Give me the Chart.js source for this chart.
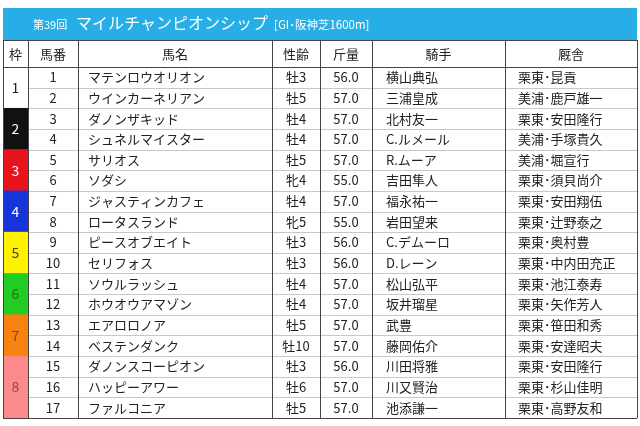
<!DOCTYPE html>
<html><head><meta charset="utf-8">
<script src="https://cdn.jsdelivr.net/npm/chart.js@4"></script>
<style>body{margin:0;background:#fff}</style>
</head><body>
<canvas id="c" width="640" height="426"></canvas>
<script>
const waku = [1,1,2,2,3,3,4,4,5,5,6,6,7,7,8,8,8];
const umaban = ["1","2","3","4","5","6","7","8","9","10","11","12","13","14","15","16","17"];
const names = ["マテンロウオリオン","ウインカーネリアン","ダノンザキッド","シュネルマイスター","サリオス","ソダシ","ジャスティンカフェ","ロータスランド","ピースオブエイト","セリフォス","ソウルラッシュ","ホウオウアマゾン","エアロロノア","ベステンダンク","ダノンスコーピオン","ハッピーアワー","ファルコニア"];
const sexAge = ["牡3","牡5","牡4","牡4","牡5","牝4","牡4","牝5","牡3","牡3","牡4","牡4","牡5","牡10","牡3","牡6","牡5"];
const weights = ["56.0","57.0","57.0","57.0","57.0","55.0","57.0","55.0","56.0","56.0","57.0","57.0","57.0","57.0","56.0","57.0","57.0"];
const jockeys = ["横山典弘","三浦皇成","北村友一","C.ルメール","R.ムーア","吉田隼人","福永祐一","岩田望来","C.デムーロ","D.レーン","松山弘平","坂井瑠星","武豊","藤岡佑介","川田将雅","川又賢治","池添謙一"];
const stables = ["栗東･昆貢","美浦･鹿戸雄一","栗東･安田隆行","美浦･手塚貴久","美浦･堀宣行","栗東･須貝尚介","栗東･安田翔伍","栗東･辻野泰之","栗東･奥村豊","栗東･中内田充正","栗東･池江泰寿","栗東･矢作芳人","栗東･笹田和秀","栗東･安達昭夫","栗東･安田隆行","栗東･杉山佳明","栗東･高野友和"];
const headers = ["枠","馬番","馬名","性齢","斤量","騎手","厩舎"];
const colEdges = [3,28,78,272,320,372,505,637];
const wakuFill = {1:"#ffffff",2:"#111111",3:"#e8141c",4:"#1535d8",5:"#fff200",6:"#22cc22",7:"#f7820f",8:"#fb8a8a"};
const wakuText = {1:"#222",2:"#fff",3:"#fff",4:"#fff",5:"#444",6:"#2a6a2a",7:"#7a4a20",8:"#8a4a4a"};
const title = "マイルチャンピオンシップ";

const FONT = '"Noto Sans CJK JP", sans-serif';
const tablePlugin = {
  id: 'table',
  afterDatasetsDraw(chart) {
    const ctx = chart.ctx, y = chart.scales.y, x = chart.scales.x, a = chart.chartArea;
    const rowH = Math.abs(y.getPixelForValue(1) - y.getPixelForValue(0));
    const px = v => x.getPixelForValue(v);
    ctx.save();
    // title bar
    ctx.fillStyle = '#27aee6';
    ctx.fillRect(px(3), 8, px(637) - px(3), 32);
    ctx.fillStyle = '#fff'; ctx.textBaseline = 'middle'; ctx.textAlign = 'left';
    ctx.font = '11px ' + FONT; ctx.fillText('第39回', 33, 25);
    ctx.font = '16px ' + FONT; ctx.fillText(title, 76, 23);
    ctx.font = '11.5px ' + FONT; ctx.fillText('[GI･阪神芝1600m]', 274, 25);
    // header
    ctx.fillStyle = '#222'; ctx.textAlign = 'center'; ctx.font = '13px ' + FONT;
    headers.forEach((h, i) => ctx.fillText(h, (px(colEdges[i]) + px(colEdges[i+1])) / 2, 54));
    // row lines
    ctx.strokeStyle = '#c8c8c8'; ctx.lineWidth = 1;
    for (let i = 1; i < umaban.length; i++) {
      const yy = Math.round(y.getPixelForValue(i) - rowH / 2) + 0.5;
      ctx.beginPath(); ctx.moveTo(px(colEdges[1]), yy); ctx.lineTo(a.right, yy); ctx.stroke();
    }
    // column lines + frame
    ctx.strokeStyle = '#444';
    colEdges.forEach(e => { const xx = Math.round(px(e)) + 0.5; ctx.beginPath(); ctx.moveTo(xx, 40); ctx.lineTo(xx, a.bottom); ctx.stroke(); });
    [40, a.top, a.bottom].forEach(v => { const yy = Math.round(v) + 0.5; ctx.beginPath(); ctx.moveTo(px(3), yy); ctx.lineTo(px(637), yy); ctx.stroke(); });
    // cells
    ctx.font = '13px ' + FONT;
    umaban.forEach((u, i) => {
      const yy = y.getPixelForValue(i);
      ctx.fillStyle = '#222';
      ctx.textAlign = 'center';
      ctx.fillText(u, (px(28) + px(78)) / 2, yy);
      ctx.fillText(sexAge[i], (px(272) + px(320)) / 2, yy);
      ctx.fillText(weights[i], (px(320) + px(372)) / 2, yy);
      ctx.textAlign = 'left';
      ctx.fillText(names[i], px(88), yy);
      ctx.fillText(jockeys[i], px(386), yy);
      ctx.fillText(stables[i], px(518), yy);
    });
    // waku numbers
    ctx.textAlign = 'center'; ctx.font = '14px ' + FONT;
    [...new Set(waku)].forEach(w => {
      const idx = waku.map((v, i) => v === w ? i : -1).filter(i => i >= 0);
      const yy = (y.getPixelForValue(idx[0]) + y.getPixelForValue(idx[idx.length - 1])) / 2;
      ctx.fillStyle = wakuText[w];
      ctx.fillText(String(w), (px(3) + px(28)) / 2, yy);
    });
    ctx.restore();
  }
};

new Chart(document.getElementById('c'), {
  type: 'bar',
  data: {
    labels: umaban,
    datasets: [{
      data: umaban.map(() => [3, 28]),
      backgroundColor: waku.map(w => wakuFill[w]),
      borderWidth: 0,
      categoryPercentage: 1,
      barPercentage: 1
    }]
  },
  options: {
    indexAxis: 'y',
    responsive: false,
    animation: false,
    layout: { padding: { left: 3, right: 3, top: 67, bottom: 8 } },
    plugins: { legend: { display: false }, tooltip: { enabled: false } },
    scales: {
      x: { type: 'linear', min: 3, max: 637, display: false },
      y: { display: false }
    }
  },
  plugins: [tablePlugin]
});
</script>
</body></html>
